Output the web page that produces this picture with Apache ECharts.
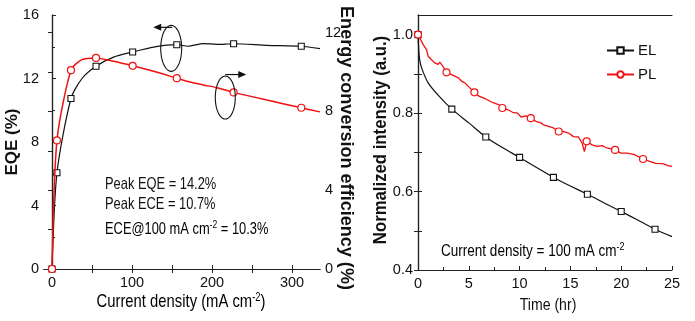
<!DOCTYPE html>
<html><head><meta charset="utf-8">
<script src="https://cdn.jsdelivr.net/npm/echarts@6/dist/echarts.min.js"></script>
<style>html,body{margin:0;padding:0;background:#fff}#c{width:695px;height:321px}</style>
</head><body><div id="c"></div>
<script>
// ---- Left panel: EQE / ECE vs current density ----
const currentDensity = [0, 6.2, 23.7, 37.5, 55, 77, 100.8, 127, 156, 170, 189, 206, 227, 268.7, 311.6, 335];
const eqeValues      = [0, 6.06, 10.74, 12.0, 12.77, 13.35, 13.67, 13.98, 14.13, 14.03, 14.2, 14.15, 14.19, 14.09, 14.03, 13.88];
const eceValues      = [0, 6.53, 10.1, 10.63, 10.72, 10.55, 10.32, 10.04, 9.69, 9.52, 9.35, 9.21, 8.97, 8.58, 8.19, 7.98];
const markedIdx      = [0, 1, 2, 4, 6, 8, 12, 14];
const leftXTicks = [0, 100, 200, 300];
const eqeTicks = [0, 4, 8, 12, 16];
const eceTicks = [0, 4, 8, 12];

// ---- Right panel: normalized intensity vs time ----
const elTime  = [0, 0.1, 0.25, 0.5, 1.0, 2.0, 3.33, 5.0, 6.67, 8.3, 10, 11.67, 13.33, 15, 16.67, 18.33, 20, 21.67, 23.33, 25];
const elValue = [1.0, 0.95, 0.925, 0.905, 0.877, 0.845, 0.810, 0.775, 0.739, 0.712, 0.687, 0.661, 0.636, 0.614, 0.593, 0.571, 0.549, 0.527, 0.504, 0.485];
const elMarked = [0, 3.33, 6.67, 10, 13.33, 16.67, 20, 23.33];

const plTime  = [0, 0.5, 0.83, 1.0, 1.33, 1.65, 1.98, 2.15, 2.48, 2.8, 3.3, 3.63, 3.96, 4.3, 4.62, 4.95, 5.55, 6.0, 6.67, 7.33, 7.99, 8.3, 8.81, 9.31, 9.8, 10.14, 10.63, 11.1, 11.6, 12.1, 12.35, 12.84, 13.34, 13.85, 14.33, 14.82, 15.3, 15.8, 16.14, 16.38, 16.6, 17.13, 17.62, 18.12, 18.6, 19.4, 19.97, 20.6, 21.3, 22.15, 22.8, 23.4, 24.1, 24.6, 25];
const plValue = [1.0, 0.975, 0.962, 0.945, 0.936, 0.928, 0.924, 0.930, 0.918, 0.904, 0.898, 0.894, 0.890, 0.881, 0.877, 0.868, 0.853, 0.843, 0.836, 0.827, 0.821, 0.813, 0.809, 0.802, 0.800, 0.790, 0.793, 0.787, 0.779, 0.775, 0.770, 0.766, 0.762, 0.753, 0.753, 0.749, 0.740, 0.739, 0.724, 0.702, 0.728, 0.719, 0.715, 0.717, 0.711, 0.706, 0.698, 0.698, 0.694, 0.683, 0.677, 0.672, 0.671, 0.666, 0.664];
const plMarked = [0, 2.8, 5.55, 8.3, 11.1, 13.85, 16.6, 19.4, 22.15];
const timeTicks = [0, 5, 10, 15, 20, 25];
const intensityTicks = [0.4, 0.6, 0.8, 1.0];

const FONT = "'Liberation Sans', Arial, sans-serif";
const AX = '#222';

function pts(xs, ys, isMarked, sym, size) {
  return xs.map((x, i) => ({
    value: [x, ys[i]],
    symbol: isMarked(i, x) ? sym : 'none',
    symbolSize: size
  }));
}

const chart = echarts.init(document.getElementById('c'), null, {renderer: 'canvas'});

const tickLbl = {color: '#111', fontFamily: FONT, fontSize: 14.5};
const axisLineStyle = {lineStyle: {color: AX, width: 1.2}};

const option = {
  animation: false,
  backgroundColor: '#fff',
  grid: [
    {left: 44, top: 15, width: 276, height: 254},
    {left: 418, top: 15, width: 254, height: 255}
  ],
  xAxis: [
    {gridIndex: 0, type: 'value', min: -10, max: 335, position: 'bottom',
     axisLine: axisLineStyle, splitLine: {show: false},
     axisTick: {inside: true, length: 4, lineStyle: {color: AX}, customValues: [0, 50, 100, 150, 200, 250, 300]},
     axisLabel: Object.assign({margin: 6, customValues: leftXTicks}, tickLbl)},
    {gridIndex: 0, type: 'value', min: -10, max: 335, position: 'top',
     axisLine: axisLineStyle, splitLine: {show: false},
     axisTick: {inside: true, length: 4, lineStyle: {color: AX}, customValues: [0, 50, 100, 150, 200, 250, 300]},
     axisLabel: {show: false}},
    {gridIndex: 1, type: 'value', min: 0, max: 25, interval: 5, position: 'bottom',
     axisLine: axisLineStyle, splitLine: {show: false},
     axisTick: {inside: true, length: 4, lineStyle: {color: AX}},
     minorTick: {show: true, splitNumber: 2, length: 3, lineStyle: {color: AX}},
     axisLabel: Object.assign({margin: 6, customValues: timeTicks}, tickLbl)},
    {gridIndex: 1, type: 'value', min: 0, max: 25, position: 'top',
     axisLine: axisLineStyle, splitLine: {show: false},
     axisTick: {show: false}, axisLabel: {show: false}}
  ],
  yAxis: [
    {gridIndex: 0, type: 'value', min: 0, max: 16, interval: 4, position: 'left',
     axisLine: axisLineStyle, splitLine: {show: false},
     axisTick: {inside: true, length: 4, lineStyle: {color: AX}},
     minorTick: {show: true, splitNumber: 2, length: 3, lineStyle: {color: AX}},
     axisLabel: Object.assign({margin: 5, customValues: eqeTicks}, tickLbl)},
    {gridIndex: 0, type: 'value', min: 0, max: 12.9, position: 'right',
     axisLine: axisLineStyle, splitLine: {show: false},
     axisTick: {inside: true, length: 4, lineStyle: {color: AX}, customValues: [0, 2, 4, 6, 8, 10, 12]},
     axisLabel: Object.assign({margin: 5, customValues: eceTicks}, tickLbl)},
    {gridIndex: 1, type: 'value', min: 0.4, max: 1.05, interval: 0.2, position: 'left',
     axisLine: axisLineStyle, splitLine: {show: false},
     axisTick: {inside: true, length: 4, lineStyle: {color: AX}, customValues: [0.4, 0.5, 0.6, 0.7, 0.8, 0.9, 1.0]},
     axisLabel: Object.assign({margin: 5, customValues: intensityTicks, formatter: v => v.toFixed(1)}, tickLbl)},
    {gridIndex: 1, type: 'value', min: 0.4, max: 1.05, position: 'right',
     axisLine: axisLineStyle, splitLine: {show: false},
     axisTick: {inside: true, length: 4, lineStyle: {color: AX}, customValues: [0.4, 0.5, 0.6, 0.7, 0.8, 0.9, 1.0]},
     axisLabel: {show: false}}
  ],
  legend: {
    data: ['EL', 'PL'],
    orient: 'vertical', left: 601, top: 38, itemWidth: 27, itemHeight: 8, itemGap: 9,
    textStyle: {fontFamily: FONT, fontSize: 15, color: '#111', padding: [0, 0, 0, -1]}
  },
  series: [
    {name: 'EQE', type: 'line', xAxisIndex: 0, yAxisIndex: 0, smooth: 0.25,
     data: pts(currentDensity, eqeValues, (i) => markedIdx.includes(i), 'rect', 6),
     lineStyle: {color: '#111', width: 1.2}, itemStyle: {color: '#fff', borderColor: '#111', borderWidth: 1.1},
     showSymbol: true, z: 3},
    {name: 'ECE', type: 'line', xAxisIndex: 0, yAxisIndex: 1, smooth: 0.25,
     data: pts(currentDensity, eceValues, (i) => markedIdx.includes(i), 'circle', 7),
     lineStyle: {color: '#f21010', width: 1.5}, itemStyle: {color: '#fff', borderColor: '#f21010', borderWidth: 1.2},
     showSymbol: true, z: 4},
    {name: 'EL', type: 'line', xAxisIndex: 2, yAxisIndex: 2, smooth: 0.2,
     data: pts(elTime, elValue, (i, x) => elMarked.includes(x), 'rect', 6),
     lineStyle: {color: '#111', width: 1.2}, itemStyle: {color: '#fff', borderColor: '#111', borderWidth: 1.1},
     symbol: 'rect', symbolSize: 6, showSymbol: true, z: 3},
    {name: 'PL', type: 'line', xAxisIndex: 2, yAxisIndex: 2,
     data: pts(plTime, plValue, (i, x) => plMarked.includes(x), 'circle', 7),
     lineStyle: {color: '#f21010', width: 1.3}, itemStyle: {color: '#fff', borderColor: '#f21010', borderWidth: 1.2},
     symbol: 'circle', symbolSize: 7, showSymbol: true, z: 4}
  ]
};
chart.setOption(option);

// ---- Annotations (texts, ellipses with arrows) ----
function ellipsePts(cx, cy, rx, ry) {
  const out = [];
  for (let k = 0; k < 48; k++) {
    const t = k / 48 * Math.PI * 2;
    out.push([cx + rx * Math.cos(t), cy + ry * Math.sin(t)]);
  }
  return out;
}
const e1 = chart.convertToPixel({xAxisIndex: 0, yAxisIndex: 0}, [149, 13.9]);
const e2 = chart.convertToPixel({xAxisIndex: 0, yAxisIndex: 0}, [216.6, 10.8]);

const sup = {
  a: {fontFamily: FONT, fontSize: 19, color: '#111'},
  s: {fontFamily: FONT, fontSize: 12, color: '#111', padding: [0, 0, 9, 0]}
};
const supSmall = {
  a: {fontFamily: FONT, fontSize: 16.5, color: '#111'},
  s: {fontFamily: FONT, fontSize: 11, color: '#111', padding: [0, 0, 8, 0]}
};

function txt(x, y, text, font, sx) {
  return {type: 'text', x: x, y: y, scaleX: sx,
    style: {text: text, font: font, fill: '#111', textVerticalAlign: 'middle', textAlign: 'left'}};
}

chart.setOption({
  graphic: [
    {type: 'polygon', shape: {points: ellipsePts(e1[0], e1[1], 10.5, 23)}, style: {fill: 'none', stroke: '#111', lineWidth: 1.1}, z: 10},
    {type: 'line', shape: {x1: e1[0] + 1, y1: e1[1] - 21, x2: e1[0] - 12, y2: e1[1] - 21}, style: {stroke: '#111', lineWidth: 1.2}, z: 10},
    {type: 'polygon', shape: {points: [[e1[0] - 18, e1[1] - 21], [e1[0] - 10, e1[1] - 24.5], [e1[0] - 10, e1[1] - 17.5]]}, style: {fill: '#111'}, z: 10},
    {type: 'polygon', shape: {points: ellipsePts(e2[0], e2[1], 10, 21.5)}, style: {fill: 'none', stroke: '#111', lineWidth: 1.1}, z: 10},
    {type: 'line', shape: {x1: e2[0], y1: e2[1] - 23, x2: e2[0] + 14, y2: e2[1] - 23}, style: {stroke: '#111', lineWidth: 1.2}, z: 10},
    {type: 'polygon', shape: {points: [[e2[0] + 21, e2[1] - 23], [e2[0] + 13, e2[1] - 26.5], [e2[0] + 13, e2[1] - 19.5]]}, style: {fill: '#111'}, z: 10},

    txt(105, 184, 'Peak EQE = 14.2%', '16.5px ' + FONT, 0.78),
    txt(105, 204, 'Peak ECE = 10.7%', '16.5px ' + FONT, 0.78),
    {type: 'text', x: 105, y: 229, scaleX: 0.78, style: {text: '{a|ECE@100 mA cm}{s|-2}{a| = 10.3%}', rich: supSmall, textVerticalAlign: 'middle'}},
    {type: 'text', x: 441, y: 251, scaleX: 0.82, style: {text: '{a|Current density = 100 mA cm}{s|-2}', rich: supSmall, textVerticalAlign: 'middle'}},

    {type: 'text', x: 12, y: 142, rotation: Math.PI / 2, scaleX: 1.0, style: {text: 'EQE (%)', font: 'bold 17px ' + FONT, fill: '#111', textAlign: 'center', textVerticalAlign: 'middle'}},
    {type: 'text', x: 346, y: 148, rotation: -Math.PI / 2, scaleX: 0.95, style: {text: 'Energy conversion efficiency (%)', font: 'bold 19px ' + FONT, fill: '#111', textAlign: 'center', textVerticalAlign: 'middle'}},
    {type: 'text', x: 181, y: 302, scaleX: 0.78, style: {text: '{a|Current density (mA cm}{s|-2}{a|)}', rich: sup, textAlign: 'center', textVerticalAlign: 'middle'}},
    {type: 'text', x: 381, y: 140, rotation: Math.PI / 2, scaleX: 0.93, style: {text: 'Normalized intensity (a.u.)', font: 'bold 18px ' + FONT, fill: '#111', textAlign: 'center', textVerticalAlign: 'middle'}},
    {type: 'text', x: 548, y: 305, scaleX: 0.83, style: {text: 'Time (hr)', font: '17px ' + FONT, fill: '#111', textAlign: 'center', textVerticalAlign: 'middle'}}
  ]
});
</script></body></html>
